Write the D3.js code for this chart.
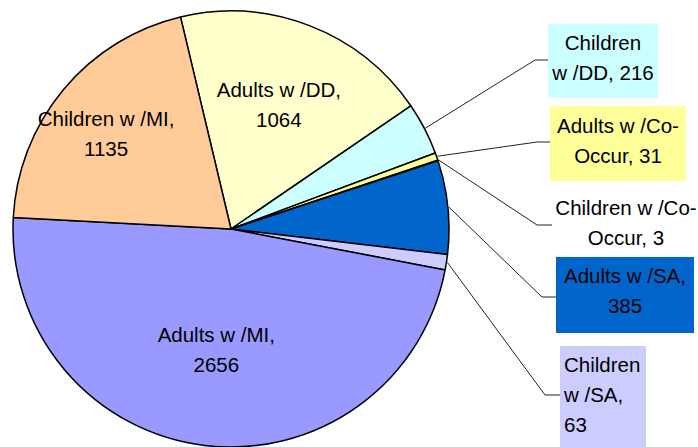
<!DOCTYPE html>
<meta charset="utf-8">
<script src="https://d3js.org/d3.v7.min.js"></script>
<style>
  body { margin: 0; background: #fff; }
  text { font-family: "Liberation Sans", Arial, sans-serif; font-size: 20.5px; fill: #000; }
</style>
<div id="chart"></div>
<script>
// data (clockwise from the top boundary)
var categories = ["Adults w /DD", "Children w /DD", "Adults w /Co-Occur", "Children w /Co-Occur",
                  "Adults w /SA", "Children w /SA", "Adults w /MI", "Children w /MI"];
var counts = [1064, 216, 31, 3, 385, 63, 2656, 1135];
var sliceColors = ["#FFFFCC", "#CCFFFF", "#FFFF99", "#FFFFFF", "#0066CC", "#CCCCFF", "#9999FF", "#FFCC99"];

// label text, split the way the picture wraps it
var labelLines = [
  [categories[0] + ",", String(counts[0])],
  ["Children", "w /DD, " + counts[1]],
  ["Adults w /Co-", "Occur, " + counts[2]],
  ["Children w /Co-", "Occur, " + counts[3]],
  [categories[4] + ",", String(counts[4])],
  ["Children", "w /SA,", String(counts[5])],
  [categories[6] + ",", String(counts[6])],
  [categories[7] + ",", String(counts[7])]
];

var width = 698, height = 447;
var cx = 231, cy = 229, R = 218;

var svg = d3.select("#chart").append("svg")
  .attr("width", width)
  .attr("height", height);

var color = d3.scaleOrdinal().domain(categories).range(sliceColors);

var pie = d3.pie().sort(null).value(function(d) { return d; })
  .startAngle(-13.4 * Math.PI / 180)
  .endAngle((360 - 13.4) * Math.PI / 180);
var arcs = pie(counts);
arcs.forEach(function(a, i) { a.name = categories[i]; });

var arc = d3.arc().innerRadius(0).outerRadius(R);

var g = svg.append("g").attr("transform", "translate(" + cx + "," + cy + ")");

g.selectAll("path")
  .data(arcs)
  .enter()
  .append("path")
    .attr("d", arc)
    .style("fill", function(d) { return color(d.name); })
    .style("stroke", "#000")
    .style("stroke-width", 1.5)
    .style("stroke-linejoin", "round");

// labels inside the big slices
var inside = {0: 0.61, 6: 0.56, 7: 0.68};
var insideShift = {0: 0, 6: 0, 7: -11};
Object.keys(inside).forEach(function(k) {
  var a = arcs[k];
  var mid = (a.startAngle + a.endAngle) / 2;
  var r = R * inside[k];
  var x = Math.sin(mid) * r + insideShift[k];
  var y = -Math.cos(mid) * r;
  var t = g.append("text").attr("text-anchor", "middle");
  labelLines[k].forEach(function(line, j) {
    t.append("tspan").attr("x", x).attr("y", y - 8 + j * 30).text(line);
  });
});

// labels outside, with leader lines
var outside = [
  {i: 1, box: [548, 24, 110, 74], tx: 603, ty: 50, anchor: "middle", elbow: [535, 60]},
  {i: 2, box: [550, 106, 136, 75], tx: 618, ty: 133, anchor: "middle", elbow: [537, 142]},
  {i: 3, box: null, tx: 626, ty: 215, anchor: "middle", elbow: [537, 225], end: 552},
  {i: 4, box: [556, 257, 138, 76], tx: 625, ty: 283, anchor: "middle", elbow: [542, 297]},
  {i: 5, box: [560, 346, 86, 110], tx: 564, ty: 372, anchor: "start", elbow: [545, 395]}
];

outside.forEach(function(o) {
  var a = arcs[o.i];
  var mid = (a.startAngle + a.endAngle) / 2;
  var sx = cx + Math.sin(mid) * (R + 1);
  var sy = cy - Math.cos(mid) * (R + 1);
  var endX = o.box ? o.box[0] : o.end;
  svg.append("polyline")
    .attr("points", [[sx, sy], o.elbow, [endX, o.elbow[1]]].map(function(p) { return p.join(","); }).join(" "))
    .style("fill", "none")
    .style("stroke", "#222")
    .style("stroke-width", 1);
  if (o.box) {
    svg.append("rect")
      .attr("x", o.box[0]).attr("y", o.box[1])
      .attr("width", o.box[2]).attr("height", o.box[3])
      .style("fill", color(a.name));
  }
  var t = svg.append("text").attr("text-anchor", o.anchor);
  labelLines[o.i].forEach(function(line, j) {
    t.append("tspan").attr("x", o.tx).attr("y", o.ty + j * 30).text(line);
  });
});
</script>
